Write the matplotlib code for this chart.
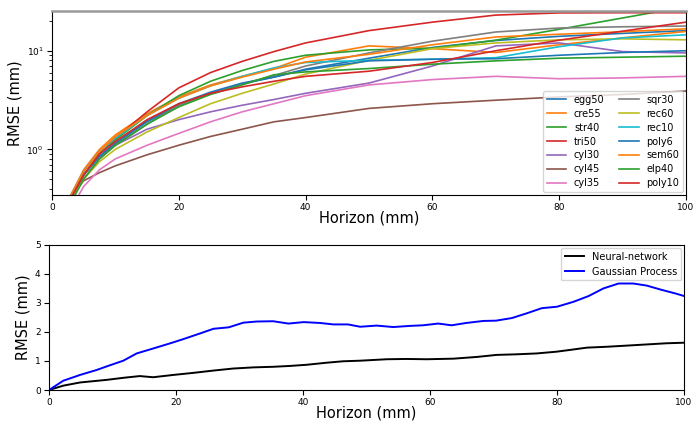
import numpy as np
import matplotlib
matplotlib.use("Agg")
import matplotlib.pyplot as plt

# ---------------- data: top panel (log RMSE per object) ----------------
horizon_top = [2.5, 5, 7.5, 10, 15, 20, 25, 30, 35, 40, 50, 60, 70, 80, 90, 100]

egg50 = [0.28, 0.55, 0.85, 1.15, 1.9, 2.8, 3.7, 4.6, 5.4, 6.5, 8.4, 10.8, 12.7, 14.0, 15.0, 16.0]
cre55 = [0.30, 0.62, 1.00, 1.40, 2.3, 3.4, 4.5, 5.5, 6.6, 8.6, 11.2, 10.5, 9.6, 11.5, 13.5, 15.7]
str40 = [0.26, 0.55, 0.90, 1.25, 2.2, 3.5, 4.9, 6.3, 7.8, 9.0, 10.2, 10.6, 12.8, 16.5, 21.5, 28.0]
tri50 = [0.28, 0.60, 0.95, 1.30, 2.4, 4.2, 6.0, 7.8, 9.8, 12.0, 16.0, 19.5, 23.0, 24.2, 24.3, 24.3]
cyl30 = [0.30, 0.55, 0.85, 1.10, 1.6, 2.0, 2.4, 2.8, 3.2, 3.7, 4.7, 7.0, 11.2, 12.0, 9.8, 9.5]
cyl45 = [0.30, 0.48, 0.58, 0.68, 0.88, 1.1, 1.35, 1.6, 1.9, 2.1, 2.6, 2.9, 3.15, 3.4, 3.6, 3.9]
cyl35 = [0.22, 0.42, 0.62, 0.80, 1.1, 1.45, 1.9, 2.4, 2.9, 3.5, 4.5, 5.1, 5.5, 5.2, 5.3, 5.5]
sqr30 = [0.27, 0.50, 0.80, 1.10, 1.8, 2.8, 3.7, 4.6, 5.6, 7.0, 9.5, 12.5, 15.5, 17.0, 17.5, 17.8]
rec60 = [0.27, 0.50, 0.75, 1.00, 1.5, 2.1, 2.9, 3.7, 4.6, 5.8, 8.0, 10.5, 12.0, 12.9, 13.2, 12.9]
rec10 = [0.30, 0.60, 0.95, 1.30, 2.2, 3.3, 4.4, 5.5, 6.7, 7.6, 8.0, 8.2, 8.5, 11.0, 13.5, 14.5]
poly6 = [0.28, 0.55, 0.85, 1.15, 1.95, 2.9, 3.8, 4.7, 5.4, 6.4, 7.9, 8.2, 8.3, 9.0, 9.6, 10.0]
sem60 = [0.30, 0.60, 0.95, 1.35, 2.2, 3.3, 4.4, 5.4, 6.5, 7.7, 9.2, 11.5, 13.8, 14.7, 15.6, 16.7]
elp40 = [0.25, 0.50, 0.80, 1.10, 1.8, 2.7, 3.6, 4.5, 5.7, 6.1, 6.6, 7.3, 7.9, 8.4, 8.6, 8.8]
poly10 = [0.28, 0.55, 0.90, 1.20, 2.0, 2.9, 3.7, 4.3, 4.9, 5.5, 6.2, 7.6, 10.0, 12.8, 15.8, 19.5]

object_names = ["egg50", "cre55", "str40", "tri50", "cyl30", "cyl45", "cyl35",
                "sqr30", "rec60", "rec10", "poly6", "sem60", "elp40", "poly10"]
object_series = [egg50, cre55, str40, tri50, cyl30, cyl45, cyl35,
                 sqr30, rec60, rec10, poly6, sem60, elp40, poly10]

# ---------------- data: bottom panel ----------------
nn_h = [0, 2.25, 4.9, 9.1, 11.7, 14.3, 16.4, 19.6, 22.7, 25.9, 29.0, 32.2, 35.3, 38.0,
        40.6, 43.7, 46.3, 49.0, 53.2, 56.3, 59.5, 63.7, 67.4, 70.5, 73.6, 76.8, 79.9,
        82.0, 84.7, 87.8, 91.0, 94.1, 97.2, 100]
nn_rmse = [0, 0.15, 0.26, 0.35, 0.42, 0.48, 0.44, 0.52, 0.59, 0.67, 0.74, 0.78, 0.80, 0.83,
           0.87, 0.94, 0.99, 1.01, 1.06, 1.07, 1.06, 1.08, 1.14, 1.21, 1.23, 1.26, 1.32,
           1.38, 1.46, 1.49, 1.53, 1.57, 1.61, 1.63]

gp_h = [0, 2.25, 4.9, 7.5, 9.3, 11.7, 13.8, 16.4, 19.1, 21.1, 23.8, 25.9, 28.3, 30.6,
        32.7, 35.3, 37.7, 40.1, 42.7, 44.8, 47.1, 49.0, 51.6, 54.2, 56.9, 58.9, 61.3,
        63.4, 65.7, 68.4, 70.4, 72.9, 75.2, 77.6, 80.0, 82.6, 85.0, 87.3, 89.7, 92.0,
        94.1, 96.5, 98.6, 100]
gp_rmse = [0, 0.32, 0.52, 0.69, 0.83, 1.01, 1.26, 1.43, 1.61, 1.75, 1.95, 2.11, 2.16, 2.32,
           2.36, 2.37, 2.29, 2.34, 2.31, 2.26, 2.26, 2.18, 2.22, 2.17, 2.21, 2.23, 2.29,
           2.23, 2.31, 2.38, 2.39, 2.48, 2.64, 2.82, 2.87, 3.04, 3.24, 3.50, 3.67, 3.67,
           3.60, 3.45, 3.33, 3.24]

# ---------------- figure ----------------
fig = plt.figure(figsize=(6.94, 4.23), dpi=100)
ax1 = fig.add_axes([0.0749, 0.539, 0.9136, 0.435])
ax2 = fig.add_axes([0.0706, 0.078, 0.915, 0.343])

tab = plt.get_cmap("tab10").colors
for i, (name, vals) in enumerate(zip(object_names, object_series)):
    ax1.plot(horizon_top, vals, color=tab[i % 10], lw=1.2, label=name)

ax1.set_yscale("log")
ax1.set_xlim(0, 100)
ax1.set_ylim(0.344, 25.3)
ax1.set_xticks([0, 20, 40, 60, 80, 100])
ax1.tick_params(labelsize=6.5, pad=2.5)
ax1.set_xlabel("Horizon (mm)", fontsize=10.5, labelpad=-1)
ax1.set_ylabel("RMSE (mm)", fontsize=10.5, labelpad=3)
ax1.spines["top"].set_color("#999999")
ax1.spines["top"].set_linewidth(1.8)
ax1.legend(ncol=2, loc="lower right", fontsize=7, handlelength=2.0,
           columnspacing=1.5, labelspacing=0.4, borderaxespad=0.3)

ax2.plot(nn_h, nn_rmse, color="black", lw=1.4, label="Neural-network")
ax2.plot(gp_h, gp_rmse, color="blue", lw=1.4, label="Gaussian Process")
ax2.set_xlim(0, 100)
ax2.set_ylim(0, 5)
ax2.set_xticks([0, 20, 40, 60, 80, 100])
ax2.set_yticks([0, 1, 2, 3, 4, 5])
ax2.tick_params(labelsize=6.5, pad=2.5)
ax2.set_xlabel("Horizon (mm)", fontsize=10.5, labelpad=-1)
ax2.set_ylabel("RMSE (mm)", fontsize=10.5, labelpad=3)
ax2.legend(loc="upper right", fontsize=7, borderaxespad=0.3)

fig.savefig("out.png", dpi=100)
